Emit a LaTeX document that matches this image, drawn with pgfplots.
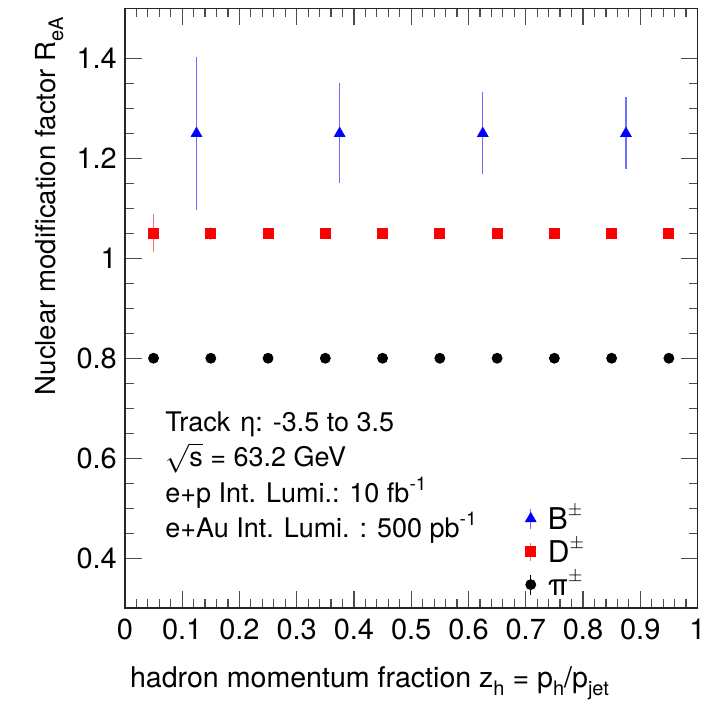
\documentclass[border=0pt]{standalone}
\usepackage{pgfplots}
\pgfplotsset{compat=1.18}
\usepackage{pgfplotstable}
\usepackage{fontspec}
\setmainfont{TeX Gyre Heros}

\definecolor{errblue}{RGB}{110,110,255}
\definecolor{errred}{RGB}{255,110,110}

\newcommand{\lsub}[1]{\raisebox{-0.55ex}{\fontsize{10}{12}\selectfont #1}}
\newcommand{\lsup}[1]{\raisebox{0.85ex}{\fontsize{9.5}{11}\selectfont #1}}

\pgfplotstableread{
x y ey
0.125 1.25 0.153
0.375 1.25 0.100
0.625 1.25 0.082
0.875 1.25 0.072
}\Bdata
\pgfplotstableread{
x y ey
0.05 1.05 0.038
0.15 1.05 0.013
0.25 1.05 0.004
0.35 1.05 0.004
0.45 1.05 0.004
0.55 1.05 0.004
0.65 1.05 0.004
0.75 1.05 0.004
0.85 1.05 0.004
0.95 1.05 0.006
}\Ddata
\pgfplotstableread{
x y ey
0.05 0.8 0
0.15 0.8 0
0.25 0.8 0
0.35 0.8 0
0.45 0.8 0
0.55 0.8 0
0.65 0.8 0
0.75 0.8 0
0.85 0.8 0
0.95 0.8 0
}\Pdata

\pgfplotsset{
  legB/.style={legend image code/.code={
    \draw[errblue, line width=0.6pt] (0pt,-5pt) -- (0pt,5pt);
    \draw[mark repeat=2, mark phase=2, ##1] plot coordinates {(-1pt,0pt) (0pt,0pt) (1pt,0pt)};}},
  legD/.style={legend image code/.code={
    \draw[errred, line width=0.6pt] (0pt,-4.5pt) -- (0pt,4.5pt);
    \draw[mark repeat=2, mark phase=2, ##1] plot coordinates {(-1pt,0pt) (0pt,0pt) (1pt,0pt)};}},
  legP/.style={legend image code/.code={
    \draw[black, line width=0.6pt] (0pt,-5pt) -- (0pt,5pt);
    \draw[mark repeat=2, mark phase=2, ##1] plot coordinates {(-1pt,0pt) (0pt,0pt) (1pt,0pt)};}},
}

\begin{document}
\begin{tikzpicture}
\path[use as bounding box] (-62.5pt,-54.5pt) rectangle (293.5pt,304.25pt);
\begin{axis}[
  at={(0pt,0pt)}, anchor=south west,
  scale only axis, width=286.5pt, height=300pt,
  xmin=0, xmax=1, ymin=0.3, ymax=1.5,
  xtick={0,0.1,0.2,0.3,0.4,0.5,0.6,0.7,0.8,0.9,1},
  ytick={0.4,0.6,0.8,1,1.2,1.4},
  minor x tick num=4, minor y tick num=3,
  tick align=inside, xtick pos=both, ytick pos=both,
  major tick length=8.5pt, minor tick length=4.5pt,
  every tick/.style={black!70, line width=0.6pt},
  axis line style={black!85, line width=0.8pt},
  /pgf/number format/assume math mode=true,
  tick label style={font=\fontsize{14.5}{16}\selectfont},
  xticklabel style={yshift=-2pt},
  yticklabel style={xshift=-0.5pt},
  clip=false,
  xlabel={hadron momentum fraction z\lsub{h} = p\lsub{h}/p\lsub{jet}},
  xlabel style={font=\fontsize{14.3}{16}\selectfont, inner sep=0pt, at={(axis description cs:0.846,-0.132)}, anchor=base east},
  ylabel={Nuclear modification factor R\lsub{eA}},
  ylabel style={font=\fontsize{13.8}{16}\selectfont, inner sep=0pt, at={(axis description cs:-0.122,0.986)}, anchor=base east},
  legend style={draw=none, fill=none, at={(axis cs:0.699,0.413)}, anchor=west,
    font=\fontsize{15}{17}\selectfont, row sep=0pt, inner sep=0pt,
    nodes={inner sep=1.5pt}},
  legend cell align=left,
]
\addplot[only marks, mark=triangle*, mark size=3pt, blue, legB,
  error bars/.cd, y dir=both, y explicit, error mark=none,
  error bar style={errblue, line width=0.6pt}]
  table[x=x, y=y, y error=ey] {\Bdata};
\addlegendentry{\hspace*{4.5pt}B\lsup{$\pm$}}
\addplot[only marks, mark=square*, mark size=2.5pt, red, legD,
  error bars/.cd, y dir=both, y explicit, error mark=none,
  error bar style={errred, line width=0.6pt}]
  table[x=x, y=y, y error=ey] {\Ddata};
\addlegendentry{\hspace*{4.5pt}D\lsup{$\pm$}}
\addplot[only marks, mark=*, mark size=2.5pt, black, legP,
  error bars/.cd, y dir=both, y explicit, error mark=none,
  error bar style={black, line width=0.6pt}]
  table[x=x, y=y, y error=ey] {\Pdata};
\addlegendentry{\hspace*{4.5pt}π\lsup{$\pm$}}

\node[anchor=base west, inner sep=0pt, font=\fontsize{13.5}{15}\selectfont] at (axis cs:0.07,0.654) {Track\hspace{5pt}η: -3.5 to 3.5};
\node[anchor=base west, inner sep=0pt, font=\fontsize{13.5}{15}\selectfont] at (axis cs:0.07,0.583) {$\sqrt{\mbox{s}}$ = 63.2 GeV};
\node[anchor=base west, inner sep=0pt, font=\fontsize{13.5}{15}\selectfont] at (axis cs:0.07,0.511) {e+p Int. Lumi.: 10 fb\lsup{-1}};
\node[anchor=base west, inner sep=0pt, font=\fontsize{13.5}{15}\selectfont] at (axis cs:0.07,0.441) {e+Au Int. Lumi. : 500 pb\lsup{-1}};
\end{axis}
\end{tikzpicture}
\end{document}
